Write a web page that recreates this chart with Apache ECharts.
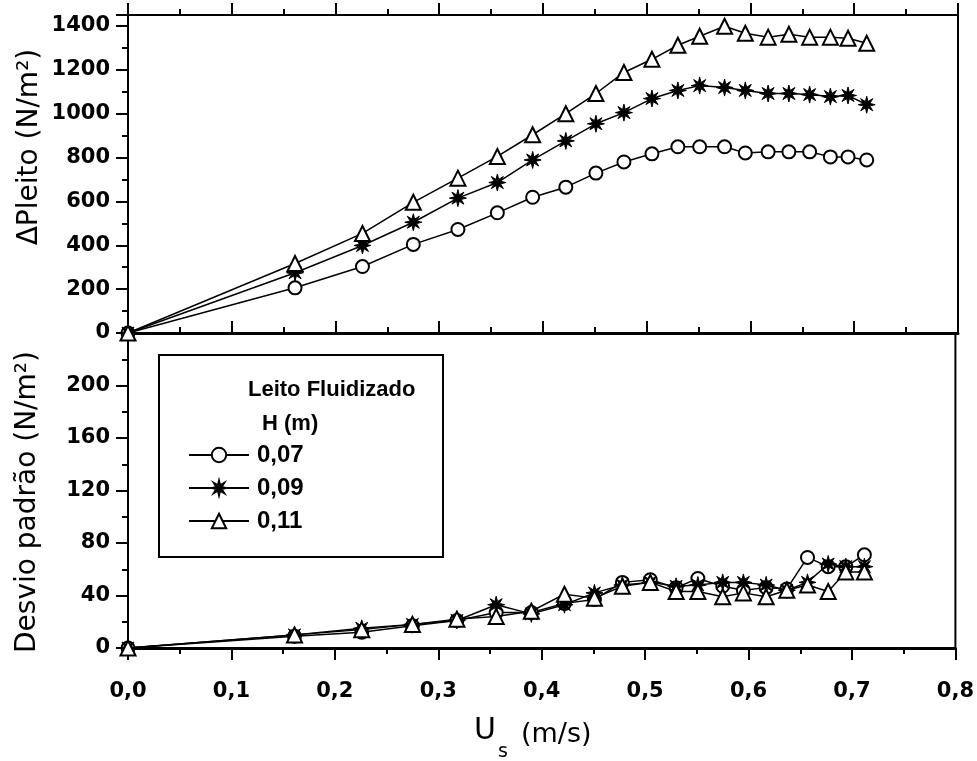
<!DOCTYPE html>
<html>
<head>
<meta charset="utf-8">
<script src="https://cdn.jsdelivr.net/npm/echarts@6/dist/echarts.min.js"></script>
<style>
  html, body { margin: 0; padding: 0; background: #fff; }
  #chart { width: 977px; height: 761px; }
</style>
</head>
<body>
<div id="chart"></div>
<script>
// Superficial gas velocity U_s (m/s)
const velocity = [0, 0.161, 0.226, 0.275, 0.318, 0.356, 0.390, 0.422, 0.451, 0.478, 0.505,
                  0.530, 0.551, 0.575, 0.595, 0.617, 0.637, 0.657, 0.677, 0.694, 0.712];

// Bed pressure drop (N/m2) for each bed height H
const deltaP_007 = [0, 206, 303, 404, 472, 548, 619, 665, 729, 780, 817,
                    849, 849, 849, 821, 826, 826, 826, 803, 803, 789];
const deltaP_009 = [0, 275, 399, 505, 615, 686, 789, 876, 954, 1005, 1069,
                    1106, 1128, 1119, 1106, 1092, 1092, 1087, 1078, 1083, 1041];
const deltaP_011 = [0, 317, 454, 596, 706, 805, 904, 1000, 1092, 1188, 1248,
                    1312, 1353, 1399, 1367, 1349, 1362, 1349, 1349, 1344, 1321];

// Standard deviation of the pressure signal (N/m2)
const stdDev_007 = [0, 9, 12, 17, 21, 27, 27, 34, 37, 50, 52,
                    46, 53, 47, 44, 46, 45, 69, 62, 62, 71];
const stdDev_009 = [0, 10, 15, 18, 21, 33, 26, 33, 42, 48, 50,
                    47, 48, 50, 50, 48, 44, 50, 64, 62, 62];
const stdDev_011 = [0, 10, 14, 18, 22, 24, 28, 41, 38, 47, 50,
                    43, 43, 39, 42, 39, 44, 48, 43, 58, 58];

const heights = ['0,07', '0,09', '0,11'];

const pairs = (ys) => velocity.map((x, i) => [x, ys[i]]);
const comma = (v, d) => v.toFixed(d).replace('.', ',');

const starPath = 'path://M10 0 L11.53 6.3 L17.07 2.93 L13.7 8.47 L20 10 L13.7 11.53 L17.07 17.07 L11.53 13.7 L10 20 L8.47 13.7 L2.93 17.07 L6.3 11.53 L0 10 L6.3 8.47 L2.93 2.93 L8.47 6.3 Z';

const markers = [
  { symbol: 'circle', symbolSize: 13, itemStyle: { color: '#fff', borderColor: '#000', borderWidth: 2 } },
  { symbol: starPath, symbolSize: 17, itemStyle: { color: '#000', borderColor: '#000', borderWidth: 1 } },
  { symbol: 'triangle', symbolSize: 15, itemStyle: { color: '#fff', borderColor: '#000', borderWidth: 2 } }
];

const tickFont = { fontFamily: 'DejaVu Sans', fontWeight: 'bold', fontSize: 21, color: '#000' };
const black2 = { color: '#000', width: 2 };

function lineSeries(name, data, k, xi, yi) {
  return Object.assign({
    name: name,
    type: 'line',
    xAxisIndex: xi,
    yAxisIndex: yi,
    data: pairs(data),
    lineStyle: { color: '#000', width: 1.5 },
    z: 3 + k
  }, markers[k]);
}

const chart = echarts.init(document.getElementById('chart'), null, { renderer: 'canvas' });

chart.setOption({
  animation: false,
  backgroundColor: '#fff',
  grid: [
    { left: 128, right: 19, top: 15, height: 318, show: true, borderColor: '#000', borderWidth: 2 },
    { left: 128, right: 19, top: 333, height: 315, show: true, borderColor: '#000', borderWidth: 2 }
  ],
  xAxis: [
    { // upper panel, ticks pointing up
      gridIndex: 0, type: 'value', min: 0, max: 0.8, interval: 0.1,
      axisLine: { lineStyle: { color: '#000', width: 3 } },
      axisTick: { inside: true, length: 12, lineStyle: black2 },
      minorTick: { show: true, splitNumber: 2, length: 6, lineStyle: black2 },
      axisLabel: { show: false }, splitLine: { show: false }
    },
    { // upper panel, ticks pointing down
      gridIndex: 0, type: 'value', min: 0, max: 0.8, interval: 0.1,
      axisLine: { show: false },
      axisTick: { inside: false, length: 12, lineStyle: black2 },
      minorTick: { show: true, splitNumber: 2, length: 6, lineStyle: black2 },
      axisLabel: { show: false }, splitLine: { show: false }
    },
    { // lower panel
      gridIndex: 1, type: 'value', min: 0, max: 0.8, interval: 0.1,
      axisLine: { lineStyle: { color: '#000', width: 3 } },
      axisTick: { length: 12, lineStyle: black2 },
      minorTick: { show: true, splitNumber: 2, length: 6, lineStyle: black2 },
      axisLabel: Object.assign({ margin: 33, formatter: (v) => comma(v, 1) }, tickFont),
      splitLine: { show: false }
    }
  ],
  yAxis: [
    {
      gridIndex: 0, type: 'value', min: 0, max: 1450, interval: 200,
      axisLine: { lineStyle: { color: '#000', width: 2 } },
      axisTick: { length: 12, lineStyle: black2 },
      minorTick: { show: true, splitNumber: 2, length: 6, lineStyle: black2 },
      axisLabel: Object.assign({ margin: 18, showMaxLabel: false, formatter: (v) => String(v) }, tickFont),
      splitLine: { show: false }
    },
    {
      gridIndex: 1, type: 'value', min: 0, max: 240, interval: 40,
      axisLine: { lineStyle: { color: '#000', width: 2 } },
      axisTick: { length: 12, lineStyle: black2 },
      minorTick: { show: true, splitNumber: 2, length: 6, lineStyle: black2 },
      axisLabel: Object.assign({ margin: 18, showMaxLabel: false, formatter: (v) => String(v) }, tickFont),
      splitLine: { show: false }
    }
  ],
  legend: {
    data: heights,
    orient: 'vertical',
    left: 188,
    top: 443,
    padding: 0,
    z: 30,
    itemWidth: 60,
    itemHeight: 18,
    itemGap: 9,
    selectedMode: false,
    textStyle: { fontFamily: 'Liberation Sans', fontWeight: 'bold', fontSize: 24, color: '#000', lineHeight: 24, padding: [0, 0, 0, 3] }
  },
  graphic: [
    { type: 'rect', shape: { x: 159, y: 355, width: 284, height: 202 },
      style: { fill: '#fff', stroke: '#000', lineWidth: 2 }, z: 10 },
    { type: 'text', x: 248, y: 390, z: 11,
      style: { text: 'Leito Fluidizado', font: 'bold 22px "Liberation Sans"', fill: '#000', verticalAlign: 'middle' } },
    { type: 'text', x: 262, y: 424, z: 11,
      style: { text: 'H (m)', font: 'bold 22px "Liberation Sans"', fill: '#000', verticalAlign: 'middle' } },
    { type: 'text', x: 30, y: 147, rotation: Math.PI / 2,
      style: { text: 'ΔPleito (N/m²)', font: '28px "DejaVu Sans"', fill: '#000', align: 'center', verticalAlign: 'middle' } },
    { type: 'text', x: 28, y: 502, rotation: Math.PI / 2,
      style: { text: 'Desvio padrão (N/m²)', font: '28px "DejaVu Sans"', fill: '#000', align: 'center', verticalAlign: 'middle' } },
    { type: 'text', x: 474, y: 731,
      style: { text: 'U', font: '30px "DejaVu Sans"', fill: '#000', verticalAlign: 'middle' } },
    { type: 'text', x: 498, y: 752,
      style: { text: 's', font: '19px "DejaVu Sans"', fill: '#000', verticalAlign: 'middle' } },
    { type: 'text', x: 521, y: 735,
      style: { text: '(m/s)', font: '27px "DejaVu Sans"', fill: '#000', verticalAlign: 'middle' } }
  ],
  series: [
    lineSeries(heights[0], deltaP_007, 0, 0, 0),
    lineSeries(heights[1], deltaP_009, 1, 0, 0),
    lineSeries(heights[2], deltaP_011, 2, 0, 0),
    lineSeries(heights[0], stdDev_007, 0, 2, 1),
    lineSeries(heights[1], stdDev_009, 1, 2, 1),
    lineSeries(heights[2], stdDev_011, 2, 2, 1)
  ]
});
</script>
</body>
</html>
